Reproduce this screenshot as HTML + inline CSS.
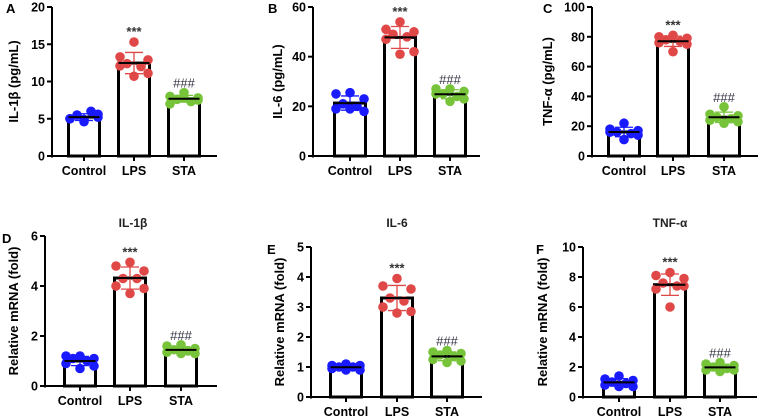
<!DOCTYPE html>
<html><head><meta charset="utf-8"><style>
html,body{margin:0;padding:0;background:#fff;width:759px;height:416px;overflow:hidden}
svg{display:block;font-family:"Liberation Sans",sans-serif}
</style></head><body>
<svg id="fig" width="759" height="416" viewBox="0 0 759 416"></svg>
<script>
const categories = ["Control","LPS","STA"];
const aCtrl=[4.6,5.0,5.2,5.5,6.0,5.0,5.6,4.9], aLps=[15.3,13.3,12.9,12.4,12.0,12.1,11.1,10.7], aSta=[8.5,8.0,7.8,7.6,7.3,7.0,7.5,7.8];
const bCtrl=[25.5,25,23,21,20,19,18,19], bLps=[54,51,50,49,48,47,42,41], bSta=[27,27,26,25,24,25,23,22];
const cCtrl=[22,18,17,16,15,16,14,11], cLps=[81,80,79,78,77,76,75,70], cSta=[33,28,27,26,25,24,23,22];
const dCtrl=[1.2,1.2,1.1,1.1,1.0,0.9,0.8,0.7], dLps=[4.95,4.8,4.6,4.3,4.3,4.0,3.9,3.7], dSta=[1.65,1.6,1.5,1.45,1.4,1.35,1.3,1.3];
const eCtrl=[1.1,1.05,1.05,1.0,1.0,0.95,0.9,0.9], eLps=[3.95,3.7,3.6,3.3,3.2,3.0,2.85,2.8], eSta=[1.55,1.5,1.45,1.4,1.35,1.25,1.2,1.15];
const fCtrl=[1.4,1.2,1.1,1.0,0.9,0.8,0.7,0.7], fLps=[8.3,8.1,7.9,7.6,7.4,7.2,7.4,6.0], fSta=[2.3,2.2,2.1,2.0,1.9,1.8,1.8,1.7];
const ticksA=[0,5,10,15,20], ticksB=[0,20,40,60], ticksC=[0,20,40,60,80,100];
const ticksD=[0,2,4,6], ticksE=[0,1,2,3,4,5], ticksF=[0,2,4,6,8,10];

const NS="http://www.w3.org/2000/svg";
const svg=document.getElementById("fig");
const colors=["#1a1aff","#e04848","#77c43a"];
const jit=[0,-14,14,-7,7,-14,14,0];
function el(tag,attrs,parent){const e=document.createElementNS(NS,tag);for(const k in attrs)e.setAttribute(k,attrs[k]);(parent||svg).appendChild(e);return e;}
function mean(a){return a.reduce((s,v)=>s+v,0)/a.length;}
function sd(a){const m=mean(a);return Math.sqrt(a.reduce((s,v)=>s+(v-m)*(v-m),0)/(a.length-1));}

function panel(p){
  const g=el("g",{});
  
  
  const ymax=p.ticks[p.ticks.length-1];
  const y=v=>p.y0-(v/ymax)*(p.y0-p.yTop);
  const L=el("text",{x:p.lx,y:p.ly,"font-size":13,"font-weight":"bold",fill:"#000"},g);L.textContent=p.letter;
  
  
  if(p.title){const t=el("text",{x:p.tx,y:p.ty,"font-size":12,"font-weight":"bold","text-anchor":"middle",fill:"#222"},g);t.textContent=p.title;
    
    }
  const yl=el("text",{transform:`translate(${p.ylx},${(p.y0+p.yTop)/2}) rotate(-90)`,"font-size":13,"font-weight":"bold","text-anchor":"middle",fill:"#000"},g);yl.textContent=p.ylabel;
  
  
  const ax=el("line",{x1:p.ax,y1:p.yTop,x2:p.ax,y2:p.y0+1.5,stroke:"#000","stroke-width":2},g);
  
  
  const xa=el("line",{x1:p.ax,y1:p.y0,x2:p.axEnd,y2:p.y0,stroke:"#000","stroke-width":2},g);
  
  
  p.ticks.forEach(t=>{
    el("line",{x1:p.ax-5,y1:y(t),x2:p.ax,y2:y(t),stroke:"#000","stroke-width":2},g);
    const tl=el("text",{x:p.ax-7,y:y(t)+4.5,"font-size":12.5,"font-weight":"bold","text-anchor":"end",fill:"#000"},g);tl.textContent=t;
    
    
  });
  p.series.forEach((vals,i)=>{
    const cx=p.bars[i];const m=mean(vals),s=sd(vals);const w=31;
    el("line",{x1:cx,y1:p.y0,x2:cx,y2:p.y0+5,stroke:"#000","stroke-width":2},g);
    const xl=el("text",{x:cx,y:p.y0+19,"font-size":12.5,"font-weight":"bold","text-anchor":"middle",fill:"#000"},g);xl.textContent=categories[i];
    
    
    const b=el("rect",{x:cx-w/2,y:y(m),width:w,height:p.y0-y(m),fill:"#fff",stroke:"#000","stroke-width":3},g);
    
    
    vals.forEach((v,j)=>{
      const c=el("circle",{cx:cx+jit[j],cy:y(v),r:4.8,fill:colors[i]},g);
      
      
    });
    const ec=colors[i];
    el("line",{x1:cx,y1:y(m+s),x2:cx,y2:y(m-s),stroke:ec,"stroke-width":1.3},g);
    el("line",{x1:cx-9,y1:y(m+s),x2:cx+9,y2:y(m+s),stroke:ec,"stroke-width":1.3},g);
    el("line",{x1:cx-9,y1:y(m-s),x2:cx+9,y2:y(m-s),stroke:ec,"stroke-width":1.3},g);
    el("line",{x1:cx-w/2,y1:y(m),x2:cx+w/2,y2:y(m),stroke:"#000","stroke-width":2},g);
    if(i>0){
      const top=Math.min(y(m+s),y(Math.max(...vals)));
      const a=el("text",{x:cx,y:top-(i==1?6:5),"font-size":i==1?13:13,"font-weight":i==1?"bold":"normal","text-anchor":"middle",fill:i==1?"#333":"#334"},g);
      a.textContent=i==1?"***":"###";
      
      
    }
  });
}
panel({letter:"A",lx:6,ly:13,ylabel:"IL-1β (pg/mL)",ylx:18,ax:52,axEnd:217,yTop:7,y0:156,ticks:ticksA,bars:[84,134,184],series:[aCtrl,aLps,aSta]});
panel({letter:"B",lx:268,ly:13,ylabel:"IL-6 (pg/mL)",ylx:282,ax:313,axEnd:480,yTop:7,y0:156,ticks:ticksB,bars:[350,400,450],series:[bCtrl,bLps,bSta]});
panel({letter:"C",lx:543,ly:13,ylabel:"TNF-α (pg/mL)",ylx:552,ax:592,axEnd:758,yTop:7,y0:156,ticks:ticksC,bars:[624,673,724],series:[cCtrl,cLps,cSta]});
panel({letter:"D",lx:2,ly:243,title:"IL-1β",tx:133,ty:227,ylabel:"Relative mRNA (fold)",ylx:18,ax:45,axEnd:217,yTop:236,y0:386,ticks:ticksD,bars:[80,130,181],series:[dCtrl,dLps,dSta]});
panel({letter:"E",lx:267,ly:254,title:"IL-6",tx:397,ty:227,ylabel:"Relative mRNA (fold)",ylx:284,ax:311,axEnd:482,yTop:247,y0:397,ticks:ticksE,bars:[346,397,447],series:[eCtrl,eLps,eSta]});
panel({letter:"F",lx:536,ly:254,title:"TNF-α",tx:670,ty:227,ylabel:"Relative mRNA (fold)",ylx:547,ax:583,axEnd:757,yTop:247,y0:397,ticks:ticksF,bars:[619,670,720],series:[fCtrl,fLps,fSta]});
</script>
</body></html>
